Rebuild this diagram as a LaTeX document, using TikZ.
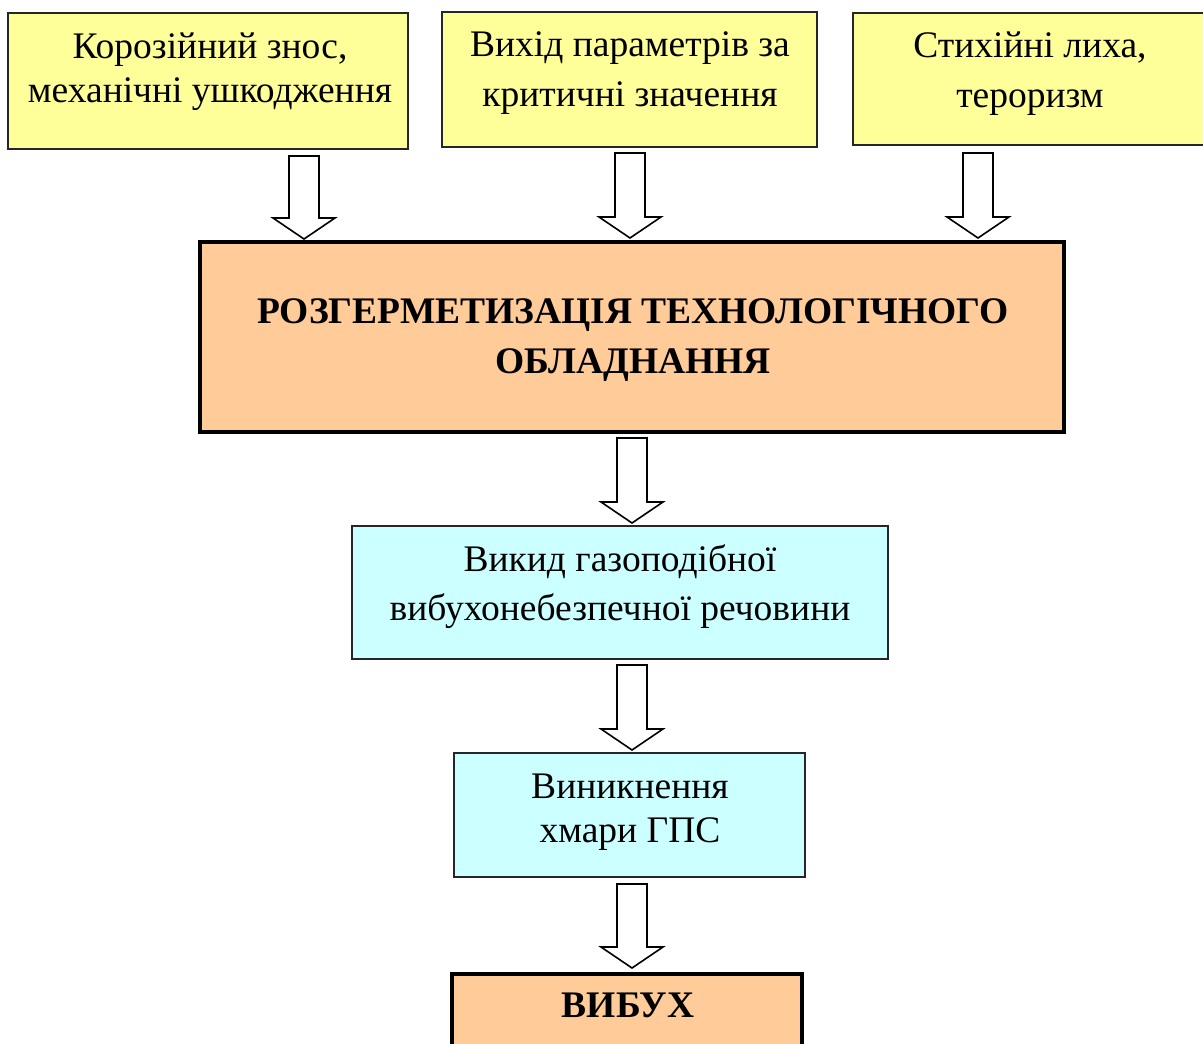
\documentclass[tikz,border=0pt]{standalone}
\usepackage{fontspec}
\setmainfont{Liberation Serif}
\usetikzlibrary{calc}
\definecolor{yel}{HTML}{FFFF99}
\definecolor{org}{HTML}{FFCC99}
\definecolor{cyn}{HTML}{CCFFFF}
\tikzset{
  thinbox/.style={draw=black!85, line width=1.5pt, inner sep=0pt},
  thickbox/.style={draw=black, line width=4pt, fill=org, inner sep=0pt},
  txt/.style={inner sep=0pt, align=center},
  hollowarrow/.style={draw=black, line width=1.6pt, fill=white, line join=miter},
}
\newcommand\blockarrow[2]{%
  \draw[hollowarrow] let \p1=(#1), \p2=(#2) in
    (\x1-15pt,\y1) -- (\x1+15pt,\y1) -- (\x1+15pt,\y2+21pt) -- (\x1+31pt,\y2+21pt)
    -- (\x2,\y2) -- (\x1-31pt,\y2+21pt) -- (\x1-15pt,\y2+21pt) -- cycle;}
\begin{document}
\begin{tikzpicture}[x=1pt,y=-1pt]
\useasboundingbox (0,0) rectangle (1203,1044);
% top boxes
\node[thinbox, fill=yel, minimum width=400pt, minimum height=136pt] (b1) at (208,81) {};
\node[thinbox, fill=yel, minimum width=375pt, minimum height=135pt] (b2) at (629.5,79.5) {};
\node[thinbox, fill=yel, minimum width=356pt, minimum height=132pt] (b3) at (1031,79) {};
\node[txt, font=\fontsize{37.5}{44}\selectfont] (t1) at (210,72) {Корозійний знос,\\механічні ушкодження};
\node[txt, font=\fontsize{37.5}{50}\selectfont] (t2) at (630,73) {Вихід параметрів за\\критичні значення};
\node[txt, font=\fontsize{37.5}{50}\selectfont] (t3) at (1030,74) {Стихійні лиха,\\тероризм};
% main box
\node[thickbox, minimum width=864pt, minimum height=190pt] (m) at (632,337) {};
\node[txt, font=\fontsize{37.5}{50}\bfseries] (tm) at (633,340) {РОЗГЕРМЕТИЗАЦІЯ ТЕХНОЛОГІЧНОГО\\ОБЛАДНАННЯ};
% cyan boxes
\node[thinbox, fill=cyn, minimum width=536pt, minimum height=133pt] (b4) at (620,592.5) {};
\node[txt, font=\fontsize{37.5}{49}\selectfont] (t4) at (620,587) {Викид газоподібної\\вибухонебезпечної речовини};
\node[thinbox, fill=cyn, minimum width=351pt, minimum height=124pt] (b5) at (629.5,815) {};
\node[txt, font=\fontsize{37.5}{44}\selectfont] (t5) at (630,812) {Виникнення\\хмари ГПС};
% bottom box
\node[thickbox, minimum width=350pt, minimum height=150pt, anchor=north] (b6) at (627,972) {};
\node[txt, font=\fontsize{37.5}{44}\bfseries, anchor=base] (t6) at (628,1017) {ВИБУХ};
% arrow coordinates
\coordinate (a1s) at (304,156); \coordinate (a1e) at (304,239);
\coordinate (a2s) at (630,153); \coordinate (a2e) at (630,238);
\coordinate (a3s) at (978,153); \coordinate (a3e) at (978,238);
\coordinate (a4s) at (632,438); \coordinate (a4e) at (632,523);
\coordinate (a5s) at (632,665); \coordinate (a5e) at (632,750);
\coordinate (a6s) at (632,884); \coordinate (a6e) at (632,968);
\blockarrow{a1s}{a1e}
\blockarrow{a2s}{a2e}
\blockarrow{a3s}{a3e}
\blockarrow{a4s}{a4e}
\blockarrow{a5s}{a5e}
\blockarrow{a6s}{a6e}
\end{tikzpicture}
\end{document}
